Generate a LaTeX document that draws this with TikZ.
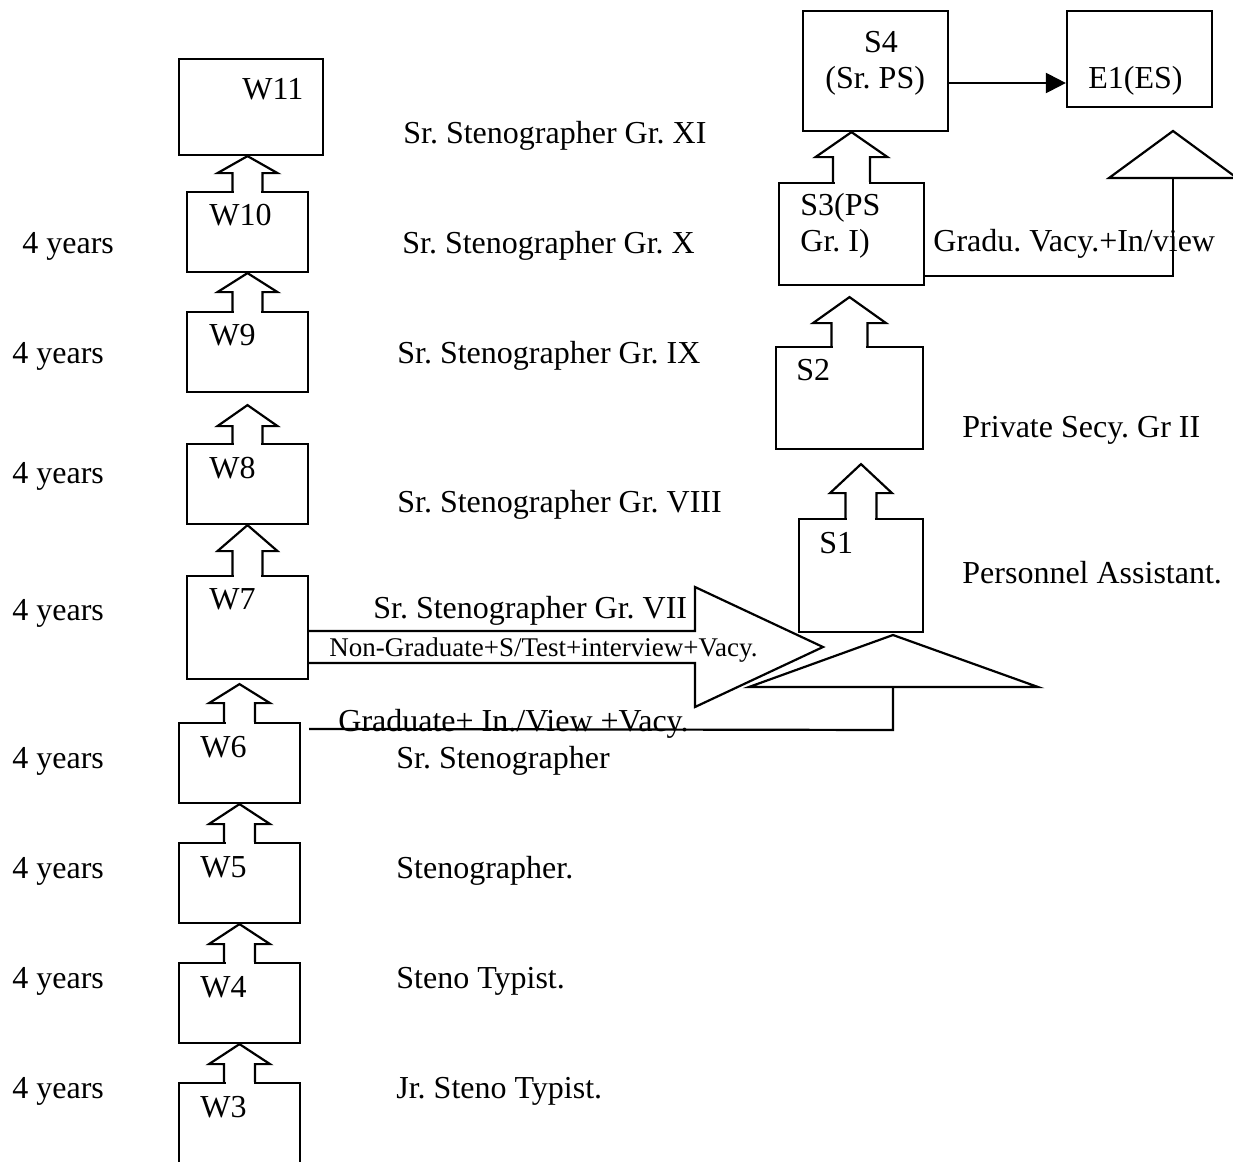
\documentclass[tikz,border=0pt]{standalone}
\usepackage{fontspec}
\setmainfont{Liberation Serif}
\usetikzlibrary{calc,arrows.meta}
\frenchspacing

% block arrow from a lower box up to the box above it
% #1 lower, #2 upper, #3 gap below upper, #4 half shaft, #5 half head, #6 head length
\newcommand{\stepup}[6]{%
  \fill[white] ($(#1.north)+(-#4+1.5,-2)$) rectangle ($(#1.north)+(#4-1.5,2)$);
  \draw[frame] ($(#1.north)+(-#4,0)$)
    -- ($(#2.south -| #1.north)+(-#4,#3+#6)$)
    -- ($(#2.south -| #1.north)+(-#5,#3+#6)$)
    -- ($(#2.south -| #1.north)+(0,#3)$)
    -- ($(#2.south -| #1.north)+(#5,#3+#6)$)
    -- ($(#2.south -| #1.north)+(#4,#3+#6)$)
    -- ($(#1.north)+(#4,0)$);}

\begin{document}
\begin{tikzpicture}[x=0.5pt, y=-0.5pt,
  frame/.style={line width=1.1pt},
  post/.style={draw, frame, inner sep=0pt, minimum width=60.5pt, minimum height=40pt},
  txt/.style={anchor=base west, inner sep=0pt, font=\fontsize{16}{18}\selectfont},
  small/.style={txt, font=\fontsize{13.5}{15}\selectfont}
]
\clip (0,0) rectangle (1233,1162);

% W grades
\node[post, minimum width=72pt, minimum height=48pt] (w11) at (251,107) {};
\node[post] (w10) at (247.5,232) {};
\node[post] (w9) at (247.5,352) {};
\node[post] (w8) at (247.5,484) {};
\node[post, minimum height=51.5pt] (w7) at (247.5,627.5) {};
\node[post] (w6) at (239.5,763) {};
\node[post] (w5) at (239.5,883) {};
\node[post] (w4) at (239.5,1003) {};
\node[post, minimum height=48.5pt] (w3) at (239.5,1131.5) {};

% S grades
\node[post, minimum width=72.5pt, minimum height=60pt] (s4) at (875.5,71) {};
\node[post, minimum width=72.5pt, minimum height=48pt] (e1) at (1139.5,59) {};
\node[post, minimum width=72.5pt, minimum height=51pt] (s3) at (851.5,234) {};
\node[post, minimum width=73.5pt, minimum height=51pt] (s2) at (849.5,398) {};
\node[post, minimum width=62pt, minimum height=56.5pt] (s1) at (861,575.5) {};

% promotions
\stepup{w10}{w11}{0}{15}{30}{17}
\stepup{w9}{w10}{0}{15}{30}{19}
\stepup{w8}{w9}{12}{15}{30}{21}
\stepup{w7}{w8}{0}{15}{30}{26}
\stepup{w6}{w7}{4}{15.5}{30.5}{19}
\stepup{w5}{w6}{0}{15.5}{30.5}{20}
\stepup{w4}{w5}{0}{15.5}{30.5}{20}
\stepup{w3}{w4}{0}{15.5}{30.5}{20}
\stepup{s3}{s4}{0}{18.5}{36}{25}
\stepup{s2}{s3}{11}{18}{36.5}{26}
\stepup{s1}{s2}{14}{15.5}{31}{29}

\draw[frame, -{Triangle[length=10pt,width=10pt]}] ($(s4.east)+(0,12)$) -- ($(s4.east -| e1.west)+(0,12)$);

% non-graduate route
\coordinate (ngtip) at (823,647);
\draw[frame] ($(w7.east)+(0,3.5)$) -- ($(ngtip)+(-128,-16)$) -- ($(ngtip)+(-128,-60)$)
  -- (ngtip) -- ($(ngtip)+(-128,60)$) -- ($(ngtip)+(-128,16)$) -- ($(w7.east)+(0,35.5)$);

% graduate route
\coordinate (gtip) at (893,635);
\draw[frame] ($(w6.north east)+(8,7)$) -- ($(gtip)+(0,95)$) -- ($(gtip)+(0,52)$);
\draw[frame] ($(gtip)+(-144,52)$) -- (gtip) -- ($(gtip)+(145,52)$) -- cycle;

% to E1
\coordinate (etip) at (1173,131);
\draw[frame] ($(s3.south east)+(0,-10)$) -| ($(etip)+(0,47)$);
\draw[frame] ($(etip)+(-64,47)$) -- (etip) -- ($(etip)+(64,47)$) -- cycle;

% box texts
\node[txt] (w11t) at (242,99) {W11};
\node[txt] (w10t) at (209,225) {W10};
\node[txt] (w9t) at (209,345) {W9};
\node[txt] (w8t) at (209,478) {W8};
\node[txt] (w7t) at (209,609) {W7};
\node[txt] (w6t) at (200,757) {W6};
\node[txt] (w5t) at (200,877) {W5};
\node[txt] (w4t) at (200,997) {W4};
\node[txt] (w3t) at (200,1117) {W3};
\node[txt, anchor=base] (s4t) at (881,52) {S4};
\node[txt] (s4u) at (825,88) {(Sr. PS)};
\node[txt] (e1t) at (1088,88) {E1(ES)};
\node[txt] (s3t) at (800,215) {S3(PS};
\node[txt] (s3u) at (800,251) {Gr. I)};
\node[txt] (s2t) at (796,380) {S2};
\node[txt] (s1t) at (819,553) {S1};

% years
\node[txt] (y10) at (22,253) {4 years};
\node[txt] (y9) at (12,363) {4 years};
\node[txt] (y8) at (12,483) {4 years};
\node[txt] (y7) at (12,620) {4 years};
\node[txt] (y6) at (12,768) {4 years};
\node[txt] (y5) at (12,878) {4 years};
\node[txt] (y4) at (12,988) {4 years};
\node[txt] (y3) at (12,1098) {4 years};

% posts
\node[txt] (r11) at (403,143) {Sr. Stenographer Gr. XI};
\node[txt] (r10) at (402,253) {Sr. Stenographer Gr. X};
\node[txt] (r9) at (397,363) {Sr. Stenographer Gr. IX};
\node[txt] (r8) at (397,512) {Sr. Stenographer Gr. VIII};
\node[txt] (r7) at (373,618) {Sr. Stenographer Gr. VII};
\node[txt] (r6) at (396,768) {Sr. Stenographer};
\node[txt] (r5) at (396,878) {Stenographer.};
\node[txt] (r4) at (396,988) {Steno Typist.};
\node[txt] (r3) at (396,1098) {Jr. Steno Typist.};
\node[txt] (rs2) at (962,437) {Private Secy. Gr II};
\node[txt] (rs1) at (962,583) {Personnel Assistant.};

% routes
\node[small] (ngt) at (329,656) {Non-Graduate+S/Test+interview+Vacy.};
\node[txt] (gt) at (338,731) {Graduate+ In./View +Vacy.};
\node[txt] (et) at (933,251) {Gradu. Vacy.+In/view};
\end{tikzpicture}
\end{document}
